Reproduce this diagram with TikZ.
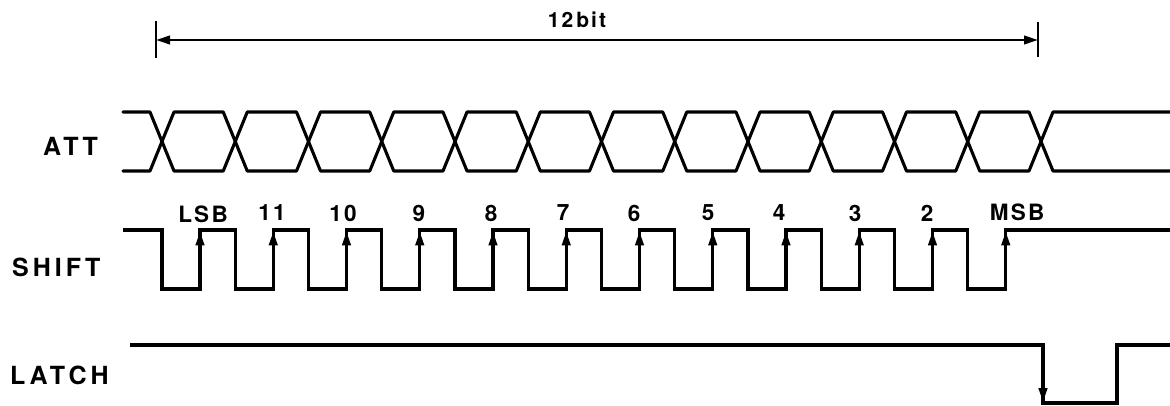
\documentclass[tikz,border=0pt]{standalone}
\usepackage{fontspec}
\setmainfont{TeX Gyre Heros}
\newfontfamily\biglab[LetterSpace=16]{TeX Gyre Heros}
\newfontfamily\smlab[LetterSpace=10]{TeX Gyre Heros}
\usetikzlibrary{arrows.meta}
\tikzset{
  sig/.style={line width=3.1pt, line join=miter, line cap=butt},
  att/.style={line width=3.1pt, line join=round, line cap=round},
  edgearrow/.style={line width=2.8pt, -{Triangle[length=14pt,width=8.5pt]}},
  dim/.style={line width=2.3pt, {Triangle[length=14pt,width=8.5pt]}-{Triangle[length=14pt,width=8.5pt]}},
  tick/.style={line width=2.6pt},
  siglabel/.style={anchor=west, inner sep=0pt, font=\biglab\bfseries\fontsize{25}{25}\selectfont},
  bitlabel/.style={inner sep=0pt, font=\smlab\bfseries\fontsize{22.5}{22.5}\selectfont}
}
\begin{document}
\begin{tikzpicture}[x=1pt,y=-1pt]
\useasboundingbox[fill=white] (0,0) rectangle (1170,406);

% dimension line
\coordinate (dl) at (156,40);
\coordinate (dr) at (1038,40);
\draw[tick] (156,21) -- (156,58);
\draw[tick] (1038,22) -- (1038,57);
\draw[dim] (dl) -- (dr);
\node[inner sep=0pt, font=\smlab\bfseries\fontsize{21}{21}\selectfont] (bits) at (577,20) {12\kern3pt bit};

% signal names
\node[siglabel] (att) at (43,146) {ATT};
\node[siglabel] (shift) at (12,267) {SHIFT};
\node[siglabel] (latch) at (10,375) {LATCH};

% ATT bus
\draw[att] (123,112) -- (150,112) -- (162,141.5) -- (150,171) -- (123,171);
\foreach \i in {0,...,11} {
  \pgfmathsetmacro\a{162+73.25*\i}
  \pgfmathsetmacro\b{\a+73.25}
  \draw[att] (\a,141.5) -- (\a+12,112) -- (\b-12,112) -- (\b,141.5) -- (\b-12,171) -- (\a+12,171) -- cycle;
}
\draw[att] (1175,112) -- (1053,112) -- (1041,141.5) -- (1053,171) -- (1175,171);

% SHIFT
\draw[sig] (123,230) foreach \i in {0,...,11} {
  -- ({162+73.25*\i},230) -- ({162+73.25*\i},289) -- ({200+73.25*\i},289) -- ({200+73.25*\i},230)
} -- (1175,230);
\foreach \i in {0,...,11} {
  \draw[edgearrow] ({200+73.25*\i},262) -- ({200+73.25*\i},231.5);
}

% bit labels
\node[bitlabel] (b12) at (203,214) {LSB};
\node[bitlabel] (b11) at (272,213) {11};
\node[bitlabel] (b10) at (343,213) {10};
\node[bitlabel] (b9)  at (419,213) {9};
\node[bitlabel] (b8)  at (491,213) {8};
\node[bitlabel] (b7)  at (563,213) {7};
\node[bitlabel] (b6)  at (634,213) {6};
\node[bitlabel] (b5)  at (708,213) {5};
\node[bitlabel] (b4)  at (779,213) {4};
\node[bitlabel] (b3)  at (855,213) {3};
\node[bitlabel] (b2)  at (927,213) {2};
\node[bitlabel] (b1)  at (1017,212) {MSB};

% LATCH
\draw[sig] (130,345) -- (1043,345) -- (1043,403) -- (1117,403) -- (1117,345) -- (1175,345);
\draw[edgearrow] (1043,372) -- (1043,402);
\end{tikzpicture}
\end{document}
